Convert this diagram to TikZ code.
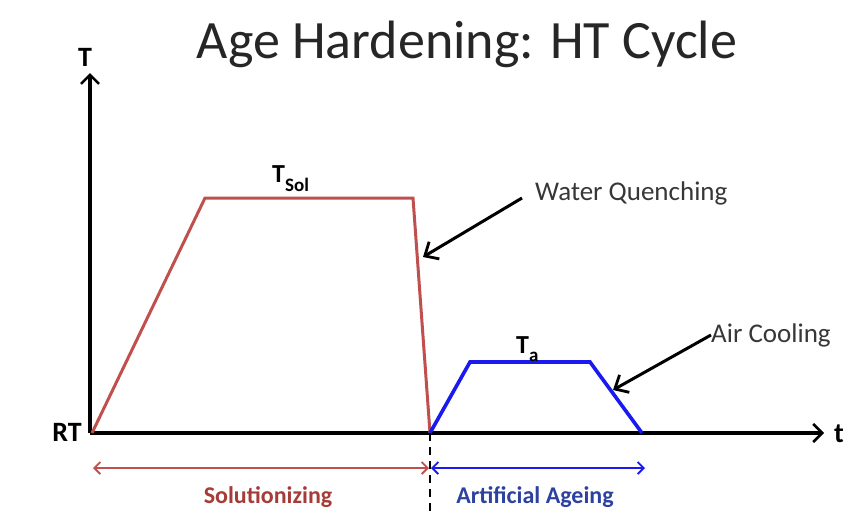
\documentclass[tikz,border=0pt]{standalone}
\usepackage{fontspec}
\setmainfont{Carlito}
\usetikzlibrary{arrows.meta}
\definecolor{solred}{RGB}{192,80,77}
\definecolor{soltext}{RGB}{165,60,56}
\definecolor{ageblue}{RGB}{25,25,240}
\definecolor{agetext}{RGB}{45,65,160}
\definecolor{txtgray}{RGB}{55,55,55}
\tikzset{
  axis/.style={line width=3.5pt,-{Straight Barb[length=9pt,width=18pt,line width=2.6pt]}},
  redcurve/.style={solred,line width=3pt,line join=miter},
  bluecurve/.style={ageblue,line width=3.6pt,line join=miter},
  pointer/.style={line width=3pt,-{Straight Barb[length=11pt,width=20pt,line width=2.8pt]}},
  lbl/.style={font=\fontsize{28}{30}\selectfont\bfseries,inner sep=0pt},
  note/.style={font=\fontsize{27}{30}\selectfont,text=txtgray,inner sep=0pt,anchor=west},
  span/.style={line width=2.2pt,{Straight Barb[length=6pt,width=12pt,line width=1.8pt]}-{Straight Barb[length=6pt,width=12pt,line width=1.8pt]}}
}
\begin{document}
\begin{tikzpicture}[x=1pt,y=-1pt]
\useasboundingbox[fill=white] (0,0) rectangle (845,512);
% title
\node[font=\fontsize{54}{60}\selectfont,text=black!85,inner sep=0pt] (title) at (467,44) {Age Hardening: HT Cycle};
% axes
\coordinate (O) at (90,433);
\coordinate (ytop) at (90,73);
\coordinate (xend) at (824,433);
\draw[axis] (O) -- (ytop);
\draw[axis] (O) -- (xend);
\node[lbl,anchor=base] (Tlab) at (85,66) {T};
\node[lbl,anchor=base west] (tlab) at (834,442) {t};
\node[lbl,anchor=base east] (RT) at (82,441) {RT};
% red solutionizing curve
\coordinate (r0) at (92,433);
\coordinate (r1) at (205,198);
\coordinate (r2) at (413,198);
\coordinate (r3) at (430,433);
\draw[redcurve] (r0) -- (r1) -- (r2) -- (r3);
\node[lbl,anchor=base west,font=\fontsize{26}{28}\selectfont\bfseries] (Tsol) at (272,182) {T\raisebox{-9pt}{\fontsize{19}{20}\selectfont Sol}};
% blue ageing curve
\coordinate (b0) at (430,433);
\coordinate (b1) at (470,362);
\coordinate (b2) at (590,362);
\coordinate (b3) at (642,433);
\draw[bluecurve] (b0) -- (b1) -- (b2) -- (b3);
\node[lbl,anchor=base west,font=\fontsize{26}{28}\selectfont\bfseries] (Ta) at (516,353) {T\raisebox{-8pt}{\fontsize{19}{20}\selectfont a}};
% annotations
\node[note] (wq) at (535,193) {Water Quenching};
\node[note] (ac) at (711,335) {Air Cooling};
\coordinate (wqtail) at (522,198);
\coordinate (wqtip) at (423,257);
\coordinate (actip) at (613,390);
\draw[pointer] (wqtail) -- (wqtip);
\draw[pointer] (ac.west) -- (actip);
% dashed divider
\coordinate (d0) at (430,433);
\coordinate (d1) at (430,512);
\draw[line width=2.2pt,dash pattern=on 8pt off 6pt] (d0) -- (d1);
% spans
\coordinate (s0) at (93,468);
\coordinate (s1) at (429,468);
\coordinate (s2) at (431,468);
\coordinate (s3) at (645,468);
\draw[span,solred] (s0) -- (s1);
\draw[span,ageblue] (s2) -- (s3);
\node[lbl,text=soltext,font=\fontsize{24}{26}\selectfont\bfseries] (sol) at (268,497) {Solutionizing};
\node[lbl,text=agetext,font=\fontsize{24}{26}\selectfont\bfseries] (aa) at (535,497) {Artificial Ageing};
\end{tikzpicture}
\end{document}
